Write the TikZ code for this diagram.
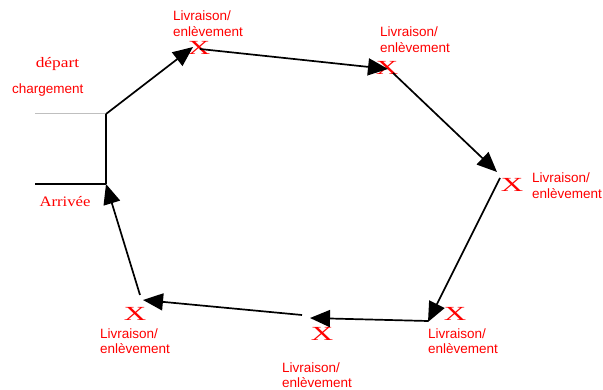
\documentclass[tikz,border=0pt]{standalone}
\usepackage{fontspec}
\setmainfont{Liberation Serif}
\newfontfamily\arialf{Liberation Sans}
\usetikzlibrary{arrows.meta}
\definecolor{lblred}{RGB}{255,0,0}
\tikzset{
  route/.style={draw=black, line width=1.7pt, -{Triangle[length=20pt,width=17pt]}},
  plain/.style={draw=black, line width=1.7pt},
  grayline/.style={draw=black!25, line width=1pt},
  xmark/.style={inner sep=0pt, text=lblred, font=\fontsize{20}{20}\selectfont},
  stoplbl/.style={inner sep=0pt, anchor=base west, text=lblred, font=\arialf\fontsize{13.5}{16}\selectfont},
  seriflbl/.style={inner sep=0pt, anchor=base, text=lblred, font=\fontsize{14.5}{16}\selectfont},
}
\newcommand{\stoptext}{\begin{tabular}[t]{@{}l@{}}Livraison/\\enlèvement\end{tabular}}
\newcommand{\xm}{\scalebox{1.55}[1]{X}}
\begin{document}
\begin{tikzpicture}[x=1pt,y=-1pt]
\useasboundingbox (0,0) rectangle (603,390);
% corners and path points
\coordinate (g0) at (35,114);
\coordinate (a0) at (35,184);
\coordinate (c0) at (106,114);
\coordinate (c7) at (106,184);
\coordinate (t1) at (193,47);
\coordinate (s2) at (200,49);
\coordinate (t2) at (388,69);
\coordinate (s3) at (393,73);
\coordinate (t3) at (497,172);
\coordinate (s4) at (500,178);
\coordinate (t4) at (428,322);
\coordinate (s5) at (428,321);
\coordinate (t5) at (310,318);
\coordinate (s6) at (302,315);
\coordinate (t6) at (143,300);
\coordinate (s7) at (140,295);
% X marks
\node[xmark] (x1) at (199,48) {\xm};
\node[xmark] (x2) at (387,68) {\xm};
\node[xmark] (x3) at (512,185) {\xm};
\node[xmark] (x4) at (455,314) {\xm};
\node[xmark] (x5) at (322,334) {\xm};
\node[xmark] (x6) at (135,314) {\xm};
% labels
\node[stoplbl] (l1) at (173,21) {\stoptext};
\node[stoplbl] (l2) at (380,37) {\stoptext};
\node[stoplbl] (l3) at (532,183) {\stoptext};
\node[stoplbl] (l4) at (428,338) {\stoptext};
\node[stoplbl] (l5) at (282,372) {\stoptext};
\node[stoplbl] (l6) at (100,338) {\stoptext};
\node[seriflbl] (dep) at (57.5,68) {\scalebox{1.2}[1]{départ}};
\node[stoplbl] (chg) at (12,94) {chargement};
\node[seriflbl] (arr) at (65,207) {\scalebox{1.15}[1]{Arrivée}};
% lines
\draw[grayline] (g0) -- (c0);
\draw[plain] (a0) -- (c7);
\draw[plain] (c0) -- (c7);
\draw[route] (c0) -- (t1);
\draw[route] (s2) -- (t2);
\draw[route] (s3) -- (t3);
\draw[route] (s4) -- (t4);
\draw[route] (s5) -- (t5);
\draw[route] (s6) -- (t6);
\draw[route] (s7) -- (c7);
\end{tikzpicture}
\end{document}
